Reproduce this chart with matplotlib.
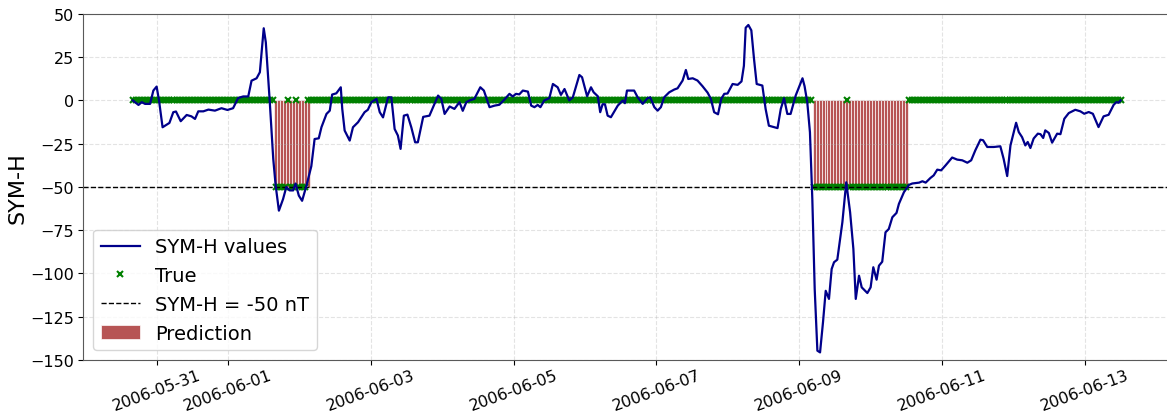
import matplotlib

matplotlib.use("Agg")
import matplotlib.pyplot as plt
import numpy as np
import pandas as pd

# SYM-H trace: hours after 2006-05-31 00:00 and value (nT)
symh_hours = [
    -8.0, -6.1, -5.0, -3.9, -2.2, -1.1, 0.0, 0.8, 2.0, 3.4, 4.3, 5.6, 6.5, 8.1,
    10.1, 11.7, 12.9, 14.0, 15.7, 17.4, 19.6, 21.8, 23.8, 25.7, 27.4, 29.1, 30.8,
    31.9, 33.6, 34.7, 36.0, 36.7, 38.0, 39.2, 40.0, 41.1, 42.5, 43.6, 44.7, 45.9,
    46.7, 47.8, 48.9, 50.4, 52.0, 53.1, 54.5, 55.4, 57.1, 58.2, 59.0, 60.4, 61.9,
    62.4, 63.2, 64.9, 66.0, 67.7, 69.9, 71.0, 72.2, 73.9, 75.0, 76.1, 77.8, 78.9,
    80.0, 81.1, 82.0, 83.1, 84.3, 85.6, 86.9, 87.8, 89.6, 91.7, 94.6, 95.7, 96.8,
    98.5, 100.1, 101.8, 102.9, 104.1, 105.2, 106.8, 108.8, 110.0, 111.9, 113.6,
    115.2, 116.9, 118.6, 119.7, 120.8, 121.9, 123.1, 124.8, 125.9, 127.0, 128.1,
    129.0, 130.3, 132.0, 133.2, 134.8, 135.9, 137.1, 138.7, 139.9, 142.1, 143.0,
    144.7, 146.0, 146.9, 148.3, 149.1, 149.9, 150.7, 151.6, 152.7, 155.0, 156.7,
    157.4, 158.1, 160.5, 161.7, 163.4, 165.0, 165.9, 167.3, 168.4, 169.5, 170.6,
    172.3, 174.0, 175.1, 176.8, 177.9, 178.7, 180.2, 181.8, 183.5, 185.2, 186.3,
    187.4, 188.7, 189.8, 190.8, 191.9, 193.6, 195.3, 196.6, 197.4, 198.0, 198.9,
    199.9, 200.8, 201.7, 203.6, 204.7, 205.8, 208.7, 209.8, 210.9, 212.0, 213.1,
    214.8, 217.1, 217.8, 218.7, 219.6, 220.4, 221.2, 222.1, 223.0, 224.0, 224.9,
    226.0, 226.9, 227.7, 228.8, 230.5, 231.8, 233.1, 234.2, 235.0, 236.1, 237.0,
    238.9, 240.0, 240.9, 242.0, 242.8, 243.9, 245.0, 246.1, 247.3, 248.7, 249.5,
    251.2, 252.9, 254.0, 256.3, 257.4, 258.5, 260.1, 261.2, 262.4, 263.7, 265.2,
    267.4, 269.1, 270.8, 272.5, 273.8, 275.2, 276.9, 277.8, 279.2, 281.4, 283.6,
    284.7, 285.9, 287.0, 288.9, 289.8, 290.9, 292.0, 292.8, 293.7, 294.8, 296.2,
    297.1, 298.0, 298.7, 299.9, 301.0, 302.7, 303.8, 305.1, 306.6, 308.8, 310.5,
    311.8, 313.3, 314.7, 316.6, 318.3, 320.0, 321.7, 322.6, 323.4, 324.0,
]
symh_values = [
    0.0, -2.6, -1.0, -2.0, -2.0, 5.7, 8.0, 0.0, -15.5, -14.0, -13.0, -6.8, -6.4, -12.0,
    -8.4, -9.2, -10.7, -6.3, -6.3, -5.3, -5.9, -4.5, -5.5, -4.5, 1.4, 2.3, 2.3,
    11.4, 12.8, 16.3, 41.7, 33.6, 0.0, -33.8, -49.0, -63.7, -57.0, -50.0, -52.0, -52.0,
    -48.0, -55.0, -58.0, -49.0, -38.0, -22.3, -21.9, -15.5, -7.8, -5.9, 3.4, 4.1, 7.6,
    -5.0, -17.4, -23.2, -15.5, -12.6, -6.8, -5.4, -1.0, 0.9, -6.8, -9.8, 1.8, 1.8,
    -16.5, -20.3, -28.0, -8.8, -8.2, -15.5, -24.2, -24.2, -9.5, -8.8, 2.8, 0.9, -7.8,
    -3.5, -4.9, -1.0, -6.0, -1.0, 0.0, 0.9, 7.6, 5.7, -3.9, -3.0,
    -2.5, 0.5, 3.8, 2.3, 3.8, 3.5, 5.7, 5.1, -3.0, -3.9, -2.6,
    -3.9, 0.0, 1.3, 9.5, 7.6, 3.2, 6.6, 0.0, 1.8, 14.7, 13.4,
    2.4, 7.6, 4.7, 2.4, -6.8, -2.2, -2.2, -8.8, -9.7, -3.0, 0.0,
    -1.6, 5.7, 5.7, 1.8, -2.0, 1.3, 1.8, -3.9, -5.9, -3.9, 1.8,
    4.7, 6.3, 7.0, 11.5, 17.6, 12.4, 12.8, 11.5, 8.2, 4.5, 0.9,
    -6.8, -8.0, 0.9, 3.8, 4.0, 9.5, 9.0, 11.0, 20.0, 42.0, 43.6,
    40.5, 24.0, 9.5, 8.6, -4.9, -14.6, -16.0, -4.9, 1.3, -7.8, -7.8,
    2.8, 12.8, 8.2, -1.0, -18.4, -57.0, -109.0, -144.6, -145.6, -128.0, -110.0,
    -114.7, -97.4, -93.5, -92.0, -70.4, -47.3, -64.6, -85.8, -114.7, -101.3, -108.0,
    -111.3, -108.0, -96.4, -103.6, -95.5, -93.2, -76.2, -74.3, -67.5, -65.0, -59.8,
    -53.0, -48.8, -48.0, -47.5, -46.7, -47.5, -44.8, -43.3, -40.0, -40.4, -37.5,
    -33.0, -34.2, -34.6, -36.0, -34.6, -28.8, -22.7, -23.0, -26.9, -26.9, -26.5,
    -33.7, -43.7, -26.0, -12.9, -18.3, -21.2, -26.0, -24.0, -27.5, -22.0, -19.2,
    -19.5, -21.7, -17.3, -18.8, -24.4, -19.2, -19.5, -10.6, -7.3, -5.4, -6.3,
    -7.7, -6.7, -7.7, -15.4, -9.2, -8.3, -2.5, -1.0, -1.3, 0.0,
]

# hourly label grid and storm hours (true label / predicted label)
label_hours = list(range(-8, 325))
true_storm_hours = [40, 41, 42, 43, 45, 46, 48, 49, 50] + list(range(221, 232)) + list(range(233, 253))
pred_storm_hours = list(range(40, 52)) + list(range(221, 253))

threshold = -50

base = pd.Timestamp("2006-05-31")
to_time = lambda h: (base + pd.to_timedelta(np.asarray(h, dtype=float), unit="h")).to_numpy()

line_t = to_time(symh_hours)
label_t = to_time(label_hours)
true_vals = np.array([threshold if h in true_storm_hours else 0 for h in label_hours])
pred_t = to_time(pred_storm_hours)

fig = plt.figure(figsize=(11.67, 4.14), dpi=100)
ax = fig.add_axes([0.0715, 0.128, 0.931, 0.836])

bars = ax.bar(pred_t, [-threshold] * len(pred_t), bottom=threshold,
              width=np.timedelta64(60, "m"), color="brown", alpha=0.8,
              edgecolor="white", linewidth=0.6,
              label="Prediction", zorder=1)
true_pts, = ax.plot(label_t, true_vals, "x", color="green", markersize=5,
                    markeredgewidth=1.5, label="True", zorder=2)
symh_line, = ax.plot(line_t, symh_values, color="darkblue", lw=1.6,
                     label="SYM-H values", zorder=3)
thr_line = ax.axhline(threshold, color="black", linestyle="--", lw=1.0,
                      label="SYM-H = -50 nT", zorder=2)

ax.set_ylim(-150, 50)
ax.set_ylabel("SYM-H", fontsize=16, labelpad=2)
ax.tick_params(axis="y", labelsize=11.5)
ax.tick_params(axis="x", labelsize=11.5, pad=1.5)
plt.setp(ax.get_xticklabels(), rotation=20)
ax.grid(True, linestyle="--", alpha=0.35)
for s in ax.spines.values():
    s.set_color("0.35")

ax.legend(handles=[symh_line, true_pts, thr_line, bars], loc="lower left",
          fontsize=14)

fig.savefig("out.png", dpi=100)
